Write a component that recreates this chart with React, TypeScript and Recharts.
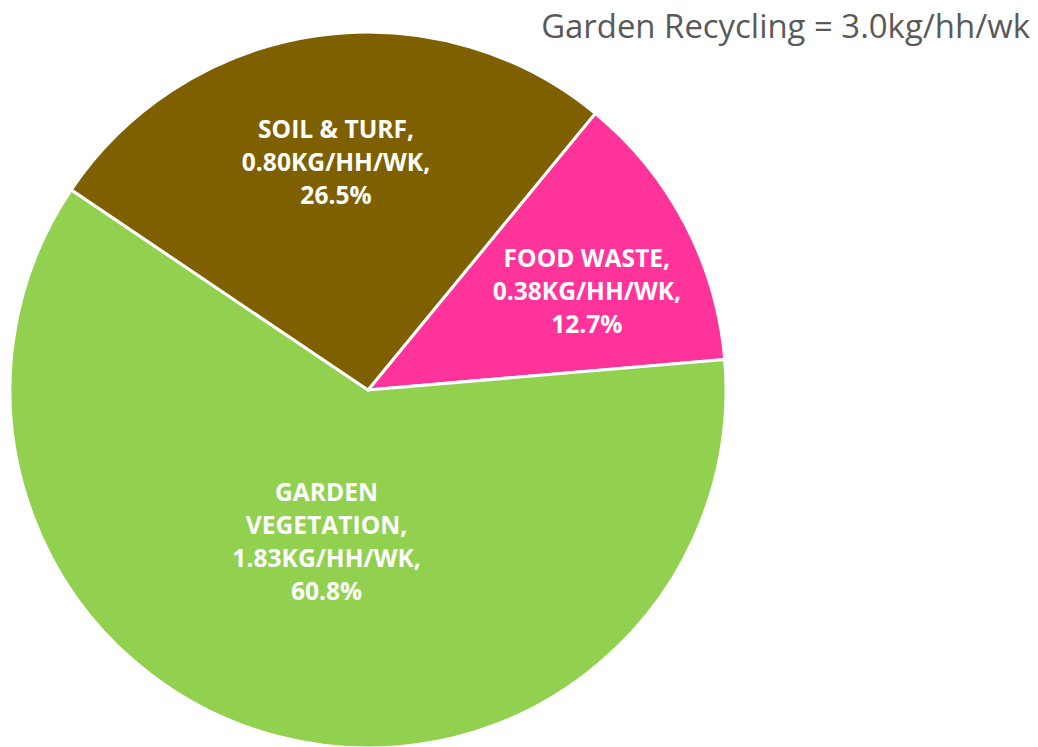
import React from 'react';
import { PieChart, Pie, Cell } from 'recharts';

const categories = ['FOOD WASTE', 'GARDEN VEGETATION', 'SOIL & TURF'];
const kgValues = ['0.38', '1.83', '0.80'];
const percentages = [12.7, 60.8, 26.5];
const titleText = 'Garden Recycling = 3.0kg/hh/wk';

const colors = ['#FF3399', '#92D050', '#7F6000'];
// label placement styling: radius fraction and angular nudge (degrees, clockwise)
const labelRadius = [0.672, 0.437, 0.646];
const labelNudge = [3.2, 0.8, 0.35];
const labelLines = [
  (i: number) => [categories[i] + ',', kgValues[i] + 'KG/HH/WK,', percentages[i].toFixed(1) + '%'],
  (i: number) => ['GARDEN', 'VEGETATION,', kgValues[i] + 'KG/HH/WK,', percentages[i].toFixed(1) + '%'],
  (i: number) => [categories[i] + ',', kgValues[i] + 'KG/HH/WK,', percentages[i].toFixed(1) + '%'],
];

const data = categories.map((c, i) => ({ name: c, value: percentages[i], kg: kgValues[i] }));

const RAD = Math.PI / 180;
const LINE_H = 33;

const renderLabel = (props: any) => {
  const { cx, cy, midAngle, outerRadius, index } = props;
  const ang = midAngle - labelNudge[index];
  const r = outerRadius * labelRadius[index];
  const x = cx + r * Math.cos(-ang * RAD);
  const y = cy + r * Math.sin(-ang * RAD);
  const lines = labelLines[index](index);
  const startY = y - ((lines.length - 1) * LINE_H) / 2;
  return (
    <text
      x={x}
      y={startY}
      fill="#FFFFFF"
      textAnchor="middle"
      dominantBaseline="central"
      fontFamily="'Open Sans', sans-serif"
      fontWeight="bold"
      fontSize={24.6}
    >
      {lines.map((l, k) => (
        <tspan key={k} x={x} y={startY + k * LINE_H} dominantBaseline="central">
          {l}
        </tspan>
      ))}
    </text>
  );
};

export default function App() {
  return (
    <div style={{ position: 'absolute', left: 0, top: 0, width: 1038, height: 747, background: '#fff', overflow: 'hidden' }}>
      <PieChart width={1038} height={747} margin={{ top: 0, right: 0, bottom: 0, left: 0 }}>
        <Pie
          data={data}
          dataKey="value"
          nameKey="name"
          cx={368}
          cy={390}
          outerRadius={358}
          startAngle={50.6}
          endAngle={-309.4}
          stroke="#FFFFFF"
          strokeWidth={3}
          label={renderLabel}
          labelLine={false}
          isAnimationActive={false}
        >
          {data.map((d, i) => (
            <Cell key={d.name} fill={colors[i]} />
          ))}
        </Pie>
      </PieChart>
      <svg width={1038} height={747} style={{ position: 'absolute', left: 0, top: 0, pointerEvents: 'none' }}>
        <text x={1030} y={38} textAnchor="end" fill="#595959" fontFamily="'Open Sans', sans-serif" fontSize={32.9}>
          {titleText}
        </text>
      </svg>
    </div>
  );
}
